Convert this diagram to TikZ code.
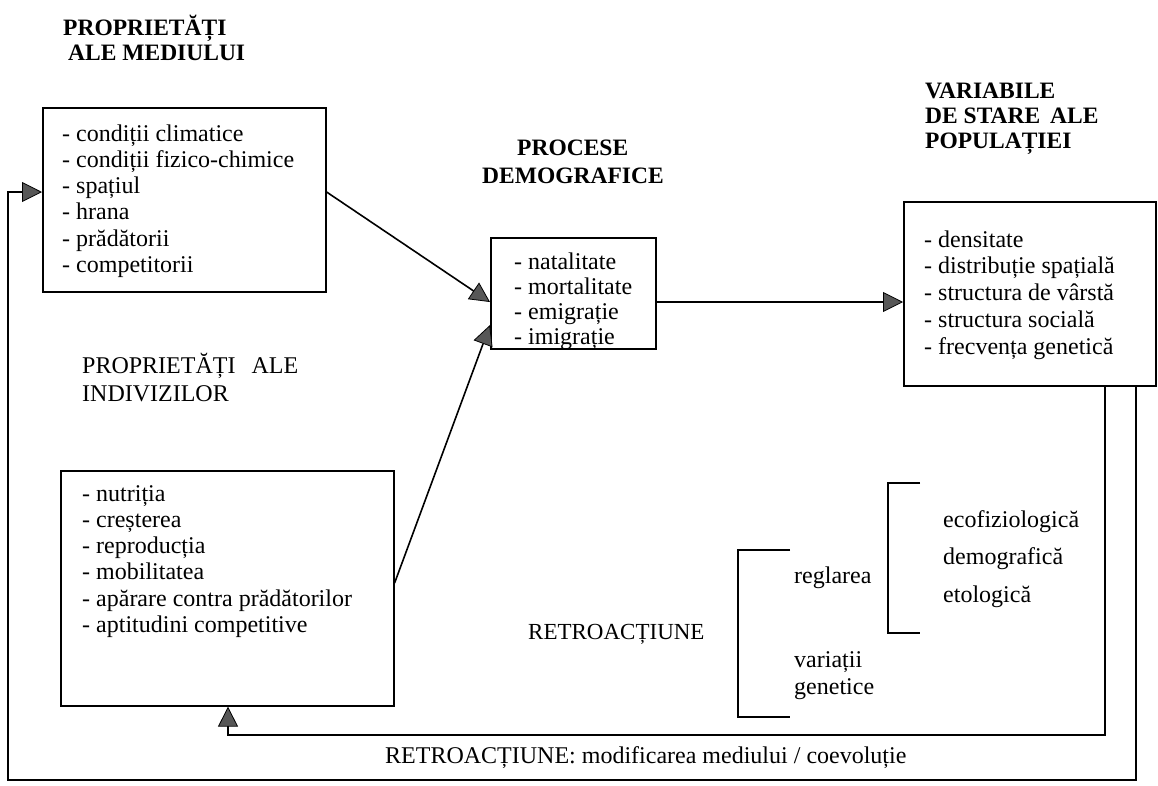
\documentclass[tikz,border=0pt]{standalone}
\usepackage{fontspec}
\setmainfont{Liberation Serif}
\usetikzlibrary{arrows.meta,calc}

\begin{document}
\begin{tikzpicture}[x=1pt,y=-1pt,
  box/.style={draw,line width=1.6pt,inner sep=0pt,anchor=north west},
  listtext/.style={anchor=north west,align=left,inner sep=0pt,
    font=\fontsize{24}{26.2}\selectfont},
  title/.style={anchor=base west,inner sep=0pt,font=\fontsize{23.5}{27}\selectfont\bfseries},
  plain/.style={anchor=base west,inner sep=0pt,font=\fontsize{24}{27}\selectfont},
  conn/.style={line width=1.6pt,
    -{Triangle[length=20pt,width=20pt,fill=black!66,line width=0.8pt]}},
  bracket/.style={line width=1.5pt}]

\fill[white] (0,0) rectangle (1158,785);
\useasboundingbox (0,0) rectangle (1158,785);

% section headings
\node[title] (t1a) at (63,35) {PROPRIETĂȚI};
\node[title] (t1b) at (68,60) {ALE MEDIULUI};
\node[title] (t2a) at (517,155) {PROCESE};
\node[title] (t2b) at (482,183) {DEMOGRAFICE};
\node[title] (t3a) at (925,98) {VARIABILE};
\node[title] (t3b) at (925,123) {DE STARE\, ALE};
\node[title] (t3c) at (925,148) {POPULAȚIEI};
\node[plain] (t4a) at (82,373) {PROPRIETĂȚI\hspace{16pt}ALE};
\node[plain] (t4b) at (82,401) {INDIVIZILOR};

% boxes
\node[box,minimum width=283pt,minimum height=184pt] (env) at (42,107) {};
\node[box,minimum width=165pt,minimum height=111pt] (proc) at (490,237) {};
\node[box,minimum width=252pt,minimum height=184pt] (stat) at (903,201) {};
\node[box,minimum width=333pt,minimum height=235pt] (indiv) at (60,470) {};

% box contents
\node[listtext] (envlist) at (62,124) {\rule{0pt}{17pt}- condiții climatice\\
  - condiții fizico-chimice\\ - spațiul\\ - hrana\\ - prădătorii\\ - competitorii};
\node[listtext,font=\fontsize{24}{25}\selectfont] (proclist) at (514,252) {\rule{0pt}{17pt}- natalitate\\
  - mortalitate\\ - emigrație\\ - imigrație};
\node[listtext,font=\fontsize{24}{26.7}\selectfont] (statlist) at (924,230) {\rule{0pt}{17pt}- densitate\\
  - distribuție spațială\\ - structura de vârstă\\ - structura socială\\
  - frecvența genetică};
\node[listtext] (indivlist) at (82,484) {\rule{0pt}{17pt}- nutriția\\
  - creșterea\\ - reproducția\\ - mobilitatea\\ - apărare contra prădătorilor\\
  - aptitudini competitive};

% feedback labels
\node[plain,font=\fontsize{23}{27}\selectfont] (retro) at (528,639) {RETROACȚIUNE};
\node[plain] (regl) at (794,583) {reglarea};
\node[plain] (var1) at (794,667) {variații};
\node[plain] (var2) at (794,694) {genetice};
\node[plain] (eco) at (943,527) {ecofiziologică};
\node[plain] (dem) at (943,564) {demografică};
\node[plain] (eto) at (943,602) {etologică};
\node[plain] (retro2) at (385,763) {RETROACȚIUNE: modificarea mediului / coevoluție};

% brackets
\draw[bracket] (790,550) -- (738,550) -- (738,717) -- (790,717);
\draw[bracket] (920,483) -- (888,483) -- (888,633) -- (920,633);

% main flow
\draw[conn] ($(env.north east)+(0,85)$) -- ($(proc.north west)+(0,65)$);
\draw[conn] ($(indiv.north east)+(0,113)$) -- ($(proc.north west)+(0,88)$);
\draw[conn] ($(proc.north east)+(0,65)$) -- ($(stat.north west)+(0,101)$);

% feedback loops
\coordinate (innerturn) at (228,735);
\coordinate (outerturn) at (8,780);
\draw[conn] ($(stat.south west)+(202,0)$) |- (innerturn) -- ($(indiv.south west)+(168,0)$);
\draw[conn] ($(stat.south west)+(233,0)$) |- (outerturn) |- ($(env.north west)+(0,85)$);

\end{tikzpicture}
\end{document}
